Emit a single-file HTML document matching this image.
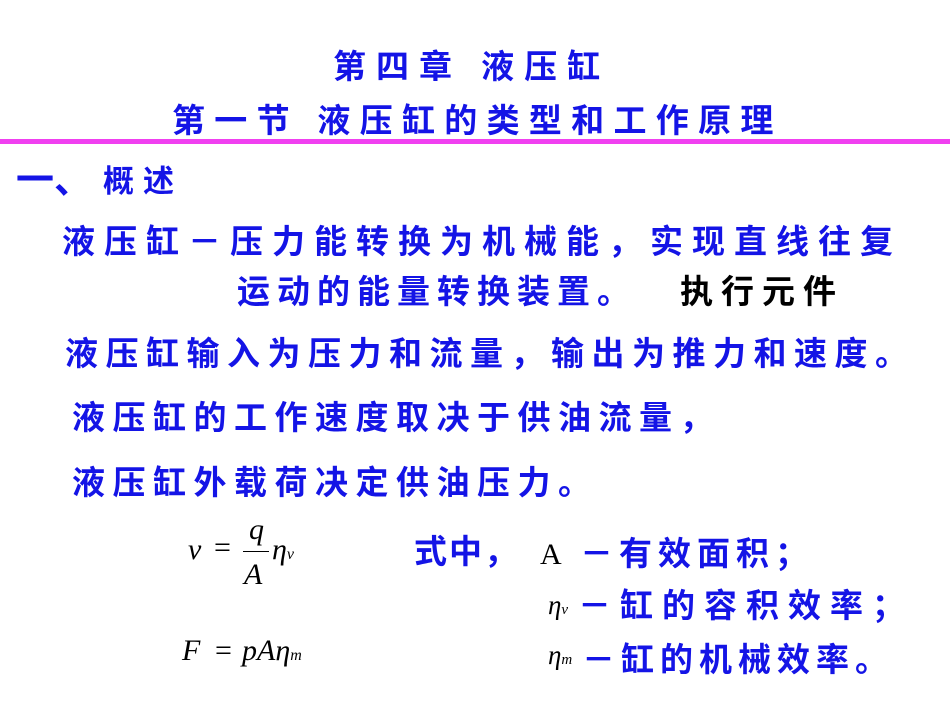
<!DOCTYPE html>
<html><head><meta charset="utf-8"><style>
body{margin:0;background:#fff;}
#c{position:relative;width:950px;height:713px;overflow:hidden;}
.t{position:absolute;font-family:"Liberation Sans","Noto Sans CJK SC",sans-serif;font-weight:bold;color:#1414e6;font-size:33px;line-height:33px;white-space:nowrap;letter-spacing:8px;}
.m{position:absolute;font-family:"Liberation Serif",serif;font-style:italic;color:#000;font-size:30px;line-height:30px;white-space:nowrap;}
</style></head><body><div id="c">
<div class="t" style="left:333px;top:50px;letter-spacing:10px">第四章 液压缸</div>
<div class="t" style="left:172px;top:104px;letter-spacing:9.3px">第一节 液压缸的类型和工作原理</div>
<div style="position:absolute;left:0;top:139px;width:950px;height:5px;background:#f040f0"></div>
<div class="t" style="left:16px;top:162px;font-size:38px;line-height:38px;letter-spacing:0">一、</div>
<div class="t" style="left:103px;top:165px;font-size:31px;letter-spacing:9px">概述</div>
<div class="t" style="left:62px;top:225px;letter-spacing:9px">液压缸－压力能转换为机械能，实现直线往复</div>
<div class="t" style="left:237px;top:275px;letter-spacing:7px">运动的能量转换装置。</div>
<div class="t" style="left:680px;top:275px;color:#000;letter-spacing:8px">执行元件</div>
<div class="t" style="left:65px;top:337px;letter-spacing:7.5px">液压缸输入为压力和流量，输出为推力和速度。</div>
<div class="t" style="left:72px;top:401px;letter-spacing:7.5px">液压缸的工作速度取决于供油流量，</div>
<div class="t" style="left:72px;top:466px;letter-spacing:7.5px">液压缸外载荷决定供油压力。</div>
<div class="m" style="left:188px;top:535px">v</div>
<div class="m" style="left:214px;top:533px;font-style:normal">=</div>
<div class="m" style="left:249px;top:515px">q</div>
<div style="position:absolute;left:243px;top:551px;width:26px;height:1px;background:#000"></div>
<div class="m" style="left:244px;top:560px">A</div>
<div class="m" style="left:272px;top:535px">η<span style="font-size:16px">v</span></div>
<div class="m" style="left:182px;top:636px">F</div>
<div class="m" style="left:215px;top:636px;font-style:normal">=</div>
<div class="m" style="left:242px;top:636px">pAη<span style="font-size:16px">m</span></div>
<div class="t" style="left:414px;top:535px;letter-spacing:2px">式中，</div>
<div class="m" style="left:540px;top:540px;font-style:normal">A</div>
<div class="t" style="left:580px;top:537px;letter-spacing:6px">－有效面积；</div>
<div class="m" style="left:548px;top:590px;font-size:27px">η<span style="font-size:15px">v</span></div>
<div class="t" style="left:578px;top:589px;letter-spacing:9px">－缸的容积效率；</div>
<div class="m" style="left:548px;top:640px;font-size:27px">η<span style="font-size:15px">m</span></div>
<div class="t" style="left:582px;top:643px;letter-spacing:6px">－缸的机械效率。</div>
</div></body></html>
